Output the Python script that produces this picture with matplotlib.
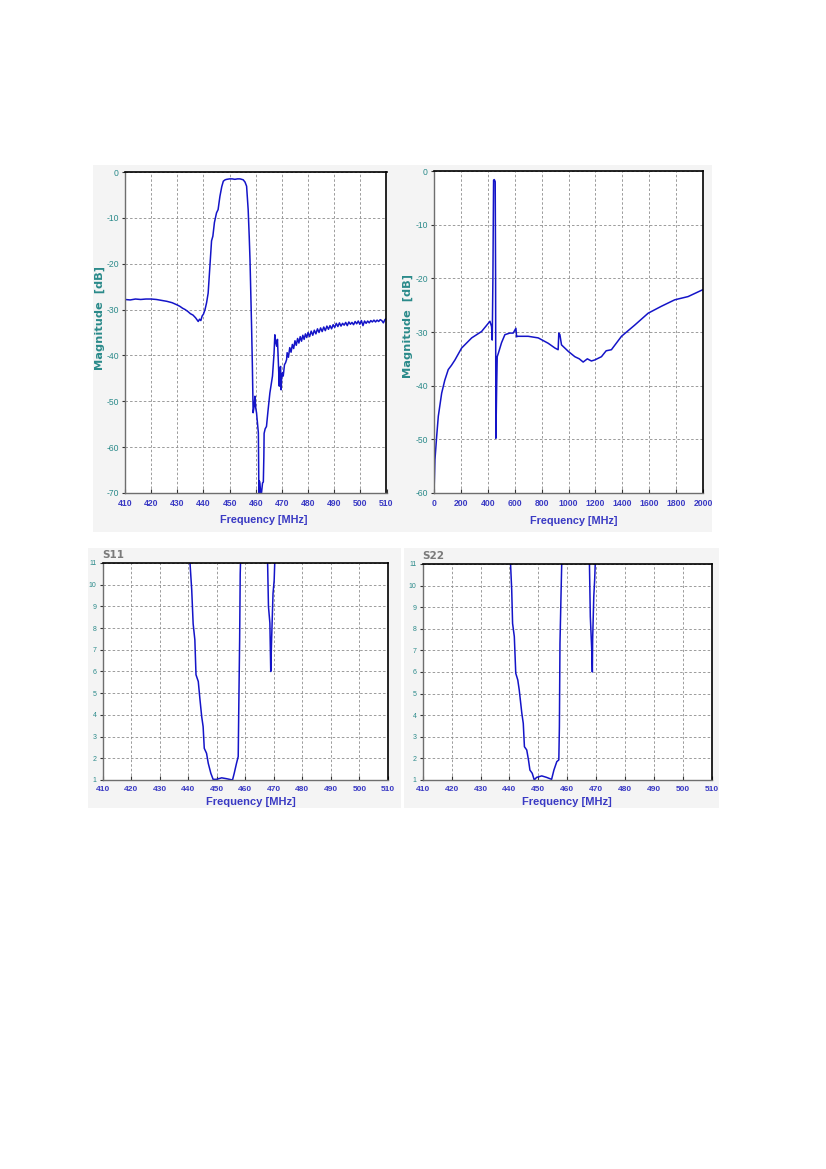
import matplotlib
matplotlib.use("Agg")
import matplotlib.pyplot as plt
from matplotlib.patches import Rectangle
from matplotlib import font_manager

plt.rcParams['axes.unicode_minus'] = False

# ---------------- data ----------------
# Top-left: S21 narrow span (MHz, dB)
s21n_freq = [410, 412, 414, 416, 418, 420, 422, 424, 426, 428, 430, 431, 432, 433,
             434, 435, 436, 437, 438, 438.5, 439, 439.5, 440, 440.6, 441.2, 441.8,
             442.4, 443.1, 443.6, 444.2, 445, 445.6, 446.3, 447, 447.6, 448.3, 448.9,
             450, 451, 452, 453, 454, 455.2, 455.9, 456.5, 457.1, 457.5, 457.8, 458.1,
             458.4, 458.7, 459.0, 459.4, 459.7, 460.0, 460.3, 460.7, 461.0, 461.2,
             461.4, 461.6, 461.9, 462.2, 462.6, 462.9, 463.1, 463.2, 463.6, 464.1,
             464.7, 465.4, 466.0, 466.4, 466.7, 467.0, 467.3, 467.6, 468.0, 468.3,
             468.6, 468.8, 469.0, 469.2, 469.5, 469.7, 469.9, 470.2, 470.5, 471.0,
             471.4, 471.8,
             472.0, 472.5, 473.0, 473.5, 474.0, 474.5, 475.0, 475.5, 476.0, 476.5,
             477.0, 477.5, 478.0, 478.5, 479.0, 479.5, 480.0, 480.6, 481.2, 481.8,
             482.4, 483.0, 483.6, 484.2, 484.8, 485.4, 486.0, 486.6, 487.2, 487.8,
             488.4, 489.0, 489.6, 490.2, 490.8, 491.4, 492.0, 492.6, 493.2, 493.8,
             494.4, 495.0, 495.6, 496.2, 496.8, 497.4, 498.0, 498.6, 499.2, 499.8,
             500.4, 501.0, 501.6, 502.2, 502.8, 503.4, 504.0, 504.6, 505.2, 505.8,
             506.4, 507.0, 507.6, 508.2, 508.8, 509.4, 510.0]
s21n_db = [-27.8, -27.9, -27.7, -27.8, -27.7, -27.7, -27.8, -28.0, -28.2, -28.5, -29.0, -29.3, -29.7, -30.0,
           -30.4, -30.9, -31.2, -31.8, -32.6, -32.1, -32.4, -31.4, -31.0, -30.0, -28.5, -26.4,
           -21.0, -15.0, -14.0, -11.0, -8.9, -8.2, -5.3, -3.2, -2.0, -1.7, -1.6,
           -1.5, -1.5, -1.6, -1.5, -1.5, -1.7, -2.2, -3.1, -8.2, -14.0, -19.1, -26.0,
           -33.6, -42.0, -52.5, -51.0, -48.9, -51.5, -52.5, -55.0, -56.9, -70.0,
           -67.4, -68.0, -70.0, -70.0, -67.8, -67.6, -62.0, -57.0, -56.0, -55.5,
           -52.0, -48.2, -46.0, -44.5, -42.0, -39.5, -35.5, -37.0, -38.0, -36.5,
           -40.9, -44.0, -46.7, -43.0, -42.4, -47.5, -45.0, -43.8, -44.5, -42.0,
           -41.6, -40.9,
           -39.4, -40.4, -38.3, -39.3, -37.6, -38.5, -36.8, -37.8, -36.3, -37.3,
           -35.9, -36.9, -35.6, -36.5, -35.3, -36.1, -35.0, -35.9, -34.7, -35.6,
           -34.5, -35.3, -34.2, -35.0, -34.0, -34.8, -33.8, -34.6, -33.6, -34.3,
           -33.5, -34.2, -33.3, -33.9, -33.0, -33.7, -32.9, -33.6, -33.0, -33.4,
           -32.8, -33.5, -32.7, -33.2, -32.8, -33.3, -32.6, -33.1, -32.5, -33.2,
           -32.4, -33.5, -32.5, -33.0, -32.5, -32.9, -32.4, -32.7, -32.3, -32.7,
           -32.3, -32.6, -32.2, -32.4, -32.9, -32.2, -31.9]

# Top-right: S21 wide span (MHz, dB)
s21w_freq = [0, 7, 20, 32, 57, 80, 106, 130, 156, 205, 280, 354, 403, 416, 428, 433,
             438, 441, 443, 448, 452, 455, 458, 460, 463, 466, 470, 478, 502, 527,
             564, 589, 609, 614, 621, 700, 775, 849, 900, 923, 928, 936, 948, 998,
             1047, 1080, 1109, 1140, 1170, 1196, 1245, 1280, 1319, 1394, 1493, 1592,
             1691, 1790, 1889, 2000]
s21w_db = [-60, -53.8, -49.4, -45.7, -41.4, -39.0, -37.0, -36.2, -35.2, -33.0, -31.1, -29.9, -28.4, -28.0, -29.0, -31.5,
           -20.0, -8.5, -1.7, -1.6, -1.8, -2.0, -20.0, -49.8, -45.0, -40.0, -34.6, -34.0, -32.0, -30.5,
           -30.2, -30.2, -29.3, -30.9, -30.8, -30.8, -31.1, -32.1, -33.0, -33.3, -30.2, -30.5, -32.4, -33.6,
           -34.6, -35.0, -35.6, -35.0, -35.4, -35.2, -34.6, -33.5, -33.3, -30.8, -28.7, -26.5,
           -25.2, -24.0, -23.4, -22.1]

# Bottom-left: S11 VSWR (two visible branches, values >11 run off the top)
s11_freq = [440.0, 440.6, 441.2, 441.7, 442.3, 442.7, 443.5, 444.1, 444.7, 445.2, 445.6,
            446.4, 447.0, 447.9, 448.7, 449.9, 451.7, 453.4, 455.5, 456.1, 456.9, 457.5,
            457.7, 458.0, 458.2, 458.3, 458.8,
            467.3, 467.8, 468.1, 468.6, 468.9, 469.2, 469.7, 470.1, 470.3, 470.8]
s11_vswr = [14.0, 11.0, 9.77, 8.2, 7.46, 5.85, 5.54, 4.7, 3.92, 3.46, 2.46,
            2.23, 1.77, 1.31, 1.03, 1.03, 1.1, 1.06, 1.0, 1.31, 1.77, 2.08,
            4.38, 7.46, 10.5, 11.0, 14.0,
            14.0, 11.0, 9.0, 8.23, 6.0, 7.46, 9.6, 10.2, 11.0, 14.0]

# Bottom-right: S22 VSWR
s22_freq = [439.8, 440.4, 440.8, 441.1, 441.7, 442.2, 442.9, 443.4, 444.3, 444.8, 445.2,
            446.0, 446.6, 447.1, 447.9, 448.6, 449.4, 451.2, 452.9, 454.6, 455.4, 456.4,
            457.1, 457.3, 457.5, 457.9, 458.1, 458.6,
            467.2, 467.7, 468.0, 468.5, 468.7, 468.8, 469.2, 469.5, 469.7, 470.2]
s22_vswr = [14.0, 11.0, 9.8, 8.25, 7.64, 5.94, 5.63, 5.17, 4.09, 3.62, 2.54,
            2.39, 1.93, 1.46, 1.31, 1.0, 1.12, 1.19, 1.12, 1.03, 1.46, 1.85,
            1.93, 3.47, 7.33, 9.8, 11.0, 14.0,
            14.0, 11.0, 8.56, 7.0, 6.0, 7.48, 9.5, 10.26, 11.0, 14.0]

narrow_ticks = list(range(410, 511, 10))
wide_ticks = list(range(0, 2001, 200))
db_ticks_narrow = list(range(0, -71, -10))
db_ticks_wide = list(range(0, -61, -10))
vswr_ticks = list(range(1, 12))

# ---------------- style ----------------
LINE = '#1414c8'
XT = '#3a3ac4'
YT = '#2a8a8a'
GRID = '#8c8c8c'
PANEL = '#f4f4f4'

_names = {f.name for f in font_manager.fontManager.ttflist}
NARROW = 'Liberation Sans Narrow' if 'Liberation Sans Narrow' in _names else 'Liberation Sans'
WIDE = 'DejaVu Sans'

W, H = 826, 1169
fig = plt.figure(figsize=(W / 100, H / 100), dpi=100)
fig.patch.set_facecolor('white')


def box(x0, y0, x1, y1):
    # pixel coords (top-left origin) -> figure fraction
    return [x0 / W, 1 - y1 / H, (x1 - x0) / W, (y1 - y0) / H]


def panel(x0, y0, x1, y1):
    b = box(x0, y0, x1, y1)
    fig.patches.append(Rectangle((b[0], b[1]), b[2], b[3], transform=fig.transFigure,
                                 facecolor=PANEL, edgecolor='none', zorder=-10))


panel(93, 165, 712, 532)
panel(88, 548, 401, 808)
panel(404, 548, 719, 808)


def style(ax, xt, yt, fs_x=6.2, fs_y=6.2):
    ax.set_facecolor('white')
    ax.set_xticks(xt)
    ax.set_yticks(yt)
    ax.grid(True, color=GRID, linestyle=(0, (3, 2.5)), linewidth=0.6)
    ax.set_axisbelow(True)
    ax.tick_params(axis='x', direction='in', length=3, width=0.8, color='#333333', pad=4)
    ax.tick_params(axis='y', direction='out', length=2.5, width=0.8, color='#333333', pad=2)
    for lab in ax.get_xticklabels():
        lab.set_color(XT); lab.set_fontsize(fs_x); lab.set_fontweight('bold'); lab.set_family(NARROW)
    for lab in ax.get_yticklabels():
        lab.set_color(YT); lab.set_fontsize(fs_y); lab.set_family(NARROW)
    for s in ('top', 'right'):
        ax.spines[s].set_color('#000000'); ax.spines[s].set_linewidth(1.2)
    for s in ('left', 'bottom'):
        ax.spines[s].set_color('#6e6e6e'); ax.spines[s].set_linewidth(1.0)


# Top-left
ax1 = fig.add_axes(box(125, 172, 386.5, 493))
ax1.plot(s21n_freq, s21n_db, color=LINE, lw=1.1)
ax1.set_xlim(410, 510)
ax1.set_ylim(-70, 0)
style(ax1, narrow_ticks, db_ticks_narrow)
ax1.set_xlabel('Frequency [MHz]', color=XT, fontsize=7.8, fontweight='bold', family=NARROW)
ax1.xaxis.set_label_coords(0.53, -0.07)
ax1.set_ylabel('Magnitude  [dB]', color=YT, fontsize=8.2, fontweight='bold', family=WIDE)
ax1.yaxis.set_label_coords(-0.076, 0.545)

# Top-right
ax2 = fig.add_axes(box(434, 171, 703, 493))
ax2.plot(s21w_freq, s21w_db, color=LINE, lw=1.1)
ax2.set_xlim(0, 2000)
ax2.set_ylim(-60, 0)
style(ax2, wide_ticks, db_ticks_wide)
ax2.set_xlabel('Frequency [MHz]', color=XT, fontsize=7.8, fontweight='bold', family=NARROW)
ax2.xaxis.set_label_coords(0.52, -0.07)
ax2.set_ylabel('Magnitude  [dB]', color=YT, fontsize=8.2, fontweight='bold', family=WIDE)
ax2.yaxis.set_label_coords(-0.078, 0.52)

# Bottom-left
ax3 = fig.add_axes(box(102.7, 563, 388, 780))
ax3.plot(s11_freq, s11_vswr, color=LINE, lw=1.1)
ax3.set_xlim(410, 510)
ax3.set_ylim(1, 11)
style(ax3, narrow_ticks, vswr_ticks, fs_x=6.0, fs_y=5.0)
ax3.set_xlabel('Frequency [MHz]', color=XT, fontsize=8, fontweight='bold', family=NARROW)
ax3.xaxis.set_label_coords(0.52, -0.08)
ax3.text(0.0, 1.015, 'S11', transform=ax3.transAxes, color='#7a7a7a', fontsize=7.5,
         fontweight='bold', family=WIDE, ha='left', va='bottom')

# Bottom-right
ax4 = fig.add_axes(box(422.7, 564, 711.7, 780))
ax4.plot(s22_freq, s22_vswr, color=LINE, lw=1.1)
ax4.set_xlim(410, 510)
ax4.set_ylim(1, 11)
style(ax4, narrow_ticks, vswr_ticks, fs_x=6.0, fs_y=5.0)
ax4.set_xlabel('Frequency [MHz]', color=XT, fontsize=8, fontweight='bold', family=NARROW)
ax4.xaxis.set_label_coords(0.5, -0.08)
ax4.text(0.0, 1.015, 'S22', transform=ax4.transAxes, color='#7a7a7a', fontsize=7.5,
         fontweight='bold', family=WIDE, ha='left', va='bottom')

fig.savefig('out.png', dpi=100, facecolor='white')
